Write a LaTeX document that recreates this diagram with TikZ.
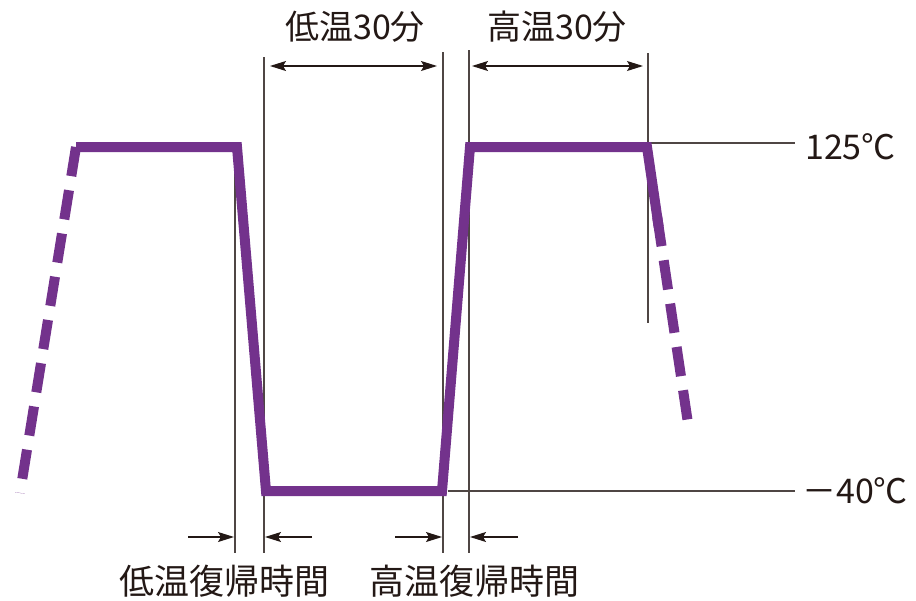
\documentclass[tikz,border=0pt]{standalone}
\usepackage{fontspec}
\setmainfont{Noto Sans CJK JP}
\usetikzlibrary{arrows.meta}

\definecolor{cycle}{RGB}{115,50,140}
\definecolor{ink}{RGB}{35,24,21}

\tikzset{
  temp/.style={cycle,line width=10pt,line join=miter},
  tempdash/.style={temp,dash pattern=on 29.5pt off 14.3pt},
  guide/.style={ink!80,line width=1.1pt},
  tip/.style={ink,line width=1.2pt},
  lbl/.style={ink,inner sep=0pt,font=\fontsize{34}{36}\selectfont}
}

\begin{document}
\begin{tikzpicture}[x=1pt,y=-1pt,>={Stealth[length=16pt,width=10pt,inset=3pt]}]
\useasboundingbox (0,0) rectangle (916,600);

% corners of the temperature curve
\coordinate (start) at (20,493);
\coordinate (hiA) at (76,147);
\coordinate (hiB) at (237,147);
\coordinate (loA) at (266,491);
\coordinate (loB) at (442,491);
\coordinate (hiC) at (470,147);
\coordinate (hiD) at (647,147);
\coordinate (fall) at (658.7,227);
\coordinate (dashA) at (657.2,217);
\coordinate (stop) at (687.5,420);

% guide lines
\draw[guide] (235,147) -- (235,553);
\draw[guide] (264,57) -- (264,553);
\draw[guide] (443,52) -- (443,553);
\draw[guide] (469,50) -- (469,553);
\draw[guide] (648,53) -- (648,323);
\draw[guide] (648,143) -- (795,143); %125
\draw[guide] (448,491) -- (795,491); %-40

% curve
\draw[tempdash] (hiA) -- (start);
\draw[temp] (hiA) -- (hiB) -- (loA) -- (loB) -- (hiC) -- (hiD) -- (fall);
\draw[tempdash] (dashA) -- (stop);

% levels
\node[lbl,anchor=west] (hot) at (805,147) {125℃};
\node[lbl,anchor=west] (cold) at (802,491) {－40℃};

% 30 min spans
\coordinate (lowS) at (270,66);
\coordinate (lowE) at (437,66);
\coordinate (highS) at (472,66);
\coordinate (highE) at (643,66);
\draw[tip,<->] (lowS) -- (lowE);
\draw[tip,<->] (highS) -- (highE);
\node[lbl] (lowtxt) at (355,27) {低温30分};
\node[lbl] (hightxt) at (557,27) {高温30分};

% recovery times
\coordinate (r1) at (188,537);
\coordinate (r1e) at (234,537);
\coordinate (r2) at (312,537);
\coordinate (r2e) at (265,537);
\coordinate (r3) at (395,537);
\coordinate (r3e) at (442,537);
\coordinate (r4) at (518,537);
\coordinate (r4e) at (470,537);
\draw[tip,->] (r1) -- (r1e);
\draw[tip,->] (r2) -- (r2e);
\draw[tip,->] (r3) -- (r3e);
\draw[tip,->] (r4) -- (r4e);
\node[lbl,font=\fontsize{35}{36}\selectfont] (lowrec) at (224,581) {低温復帰時間};
\node[lbl,font=\fontsize{35}{36}\selectfont] (highrec) at (474,581) {高温復帰時間};
\end{tikzpicture}
\end{document}
